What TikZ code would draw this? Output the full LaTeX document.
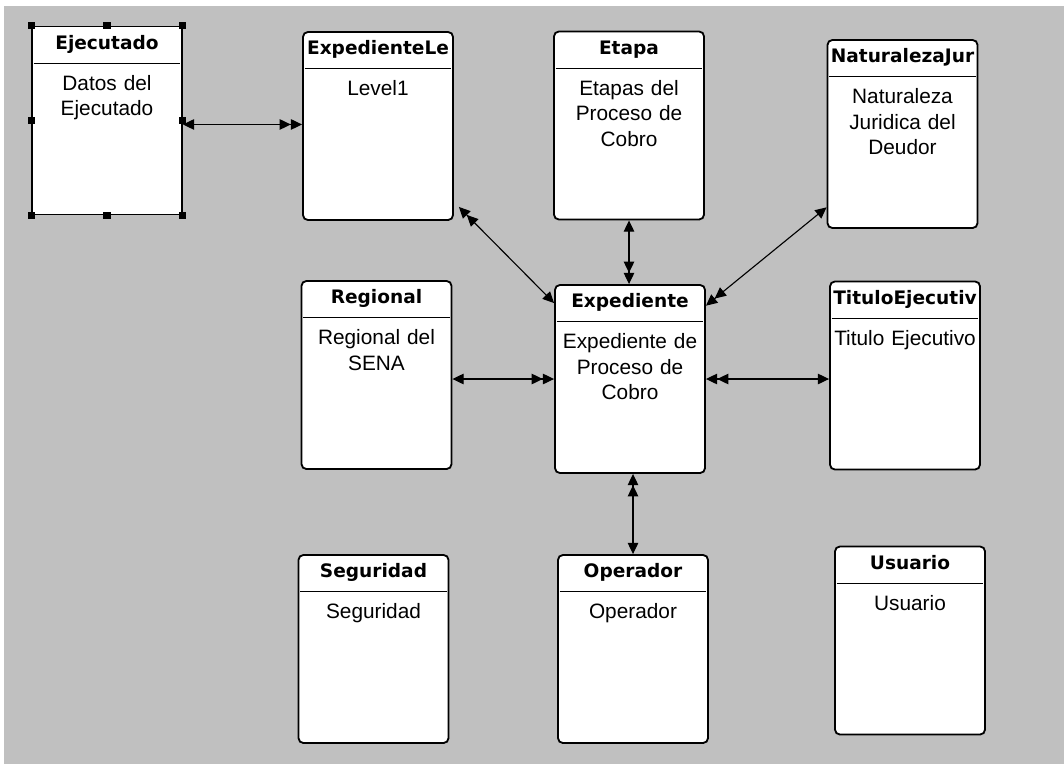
\documentclass[tikz,border=0pt]{standalone}
\usepackage{fontspec}
\setmainfont{Liberation Sans}
\newfontfamily\ttlfont{DejaVu Sans}
\usepackage{tikz}
\usetikzlibrary{arrows.meta,positioning}
\definecolor{canvas}{RGB}{192,192,192}
\tikzset{ertip/.tip={Triangle[length=8pt,width=7.5pt]}}

\begin{document}
\begin{tikzpicture}[x=0.025cm,y=-0.025cm,
  ent/.style={
    draw,
    fill=white,
    line width=1.3pt,
    rounded corners=3.5pt,
    minimum width=3.75cm,
    minimum height=4.7cm,
    inner sep=0pt
  },
  ttl/.style={
    font=\ttlfont\bfseries\fontsize{13.2}{15}\selectfont,
    minimum width=3.65cm,
    minimum height=0.925cm,
    text height=9.5pt,
    text depth=2.5pt,
    inner sep=0pt,
    anchor=north
  },
  body/.style={
    font=\fontsize{14.8}{18.1}\selectfont,
    text width=3.6cm,
    align=center,
    inner sep=0pt,
    anchor=base
  },
  hdr/.style={line width=0.9pt},
  hnd/.style={fill=black,inner sep=0pt,minimum size=5pt},
  rel/.style={{ertip[]}-{ertip[]ertip[]},line width=0.8pt}]

  \useasboundingbox (0,0) rectangle (1064,764);
  \fill[white] (0,0) rectangle (1064,764);
  \fill[canvas] (4,6) rectangle (1064,764);

  % top row
  \node[ent,sharp corners] (ejec) at (107,120.5) {};
  \node[ttl] (ejec-t) at (ejec.north) {Ejecutado};
  \node[body] (ejec-b) at ([yshift=-19.2pt]ejec-t.south) {Datos del\\Ejecutado};

  \node[ent] (level) at (378,126) {};
  \node[ttl] (level-t) at (level.north) {ExpedienteLe};
  \node[body] (level-b) at ([yshift=-19.2pt]level-t.south) {Level1};

  \node[ent] (etapa) at (629,125.5) {};
  \node[ttl] (etapa-t) at (etapa.north) {Etapa};
  \node[body] (etapa-b) at ([yshift=-19.2pt]etapa-t.south) {Etapas del\\Proceso de\\Cobro};

  \node[ent] (natur) at (902.5,134) {};
  \node[ttl] (natur-t) at (natur.north) {NaturalezaJur};
  \node[body] (natur-b) at ([yshift=-19.2pt]natur-t.south) {Naturaleza\\Juridica del\\Deudor};

  % middle row
  \node[ent] (regional) at (376.5,375) {};
  \node[ttl] (regional-t) at (regional.north) {Regional};
  \node[body] (regional-b) at ([yshift=-19.2pt]regional-t.south) {Regional del\\SENA};

  \node[ent] (expd) at (630,379) {};
  \node[ttl] (expd-t) at (expd.north) {Expediente};
  \node[body] (expd-b) at ([yshift=-19.2pt]expd-t.south) {Expediente de\\Proceso de\\Cobro};

  \node[ent] (titulo) at (905,375.5) {};
  \node[ttl] (titulo-t) at (titulo.north) {TituloEjecutiv};
  \node[body] (titulo-b) at ([yshift=-19.2pt]titulo-t.south) {Titulo Ejecutivo};

  % bottom row
  \node[ent] (segur) at (373.5,649) {};
  \node[ttl] (segur-t) at (segur.north) {Seguridad};
  \node[body] (segur-b) at ([yshift=-19.2pt]segur-t.south) {Seguridad};

  \node[ent] (oper) at (633,649) {};
  \node[ttl] (oper-t) at (oper.north) {Operador};
  \node[body] (oper-b) at ([yshift=-19.2pt]oper-t.south) {Operador};

  \node[ent] (usuario) at (910,640.5) {};
  \node[ttl] (usuario-t) at (usuario.north) {Usuario};
  \node[body] (usuario-b) at ([yshift=-19.2pt]usuario-t.south) {Usuario};

  \foreach \n in {ejec,level,etapa,natur,regional,expd,titulo,segur,oper,usuario}
    \draw[hdr] (\n-t.south west) -- (\n-t.south east);

  % selection handles
  \foreach \a in {north west,north,north east,east,south east,south,south west,west}
    \node[hnd] (ejec-h-\a) at (ejec.\a) {};

  \draw[rel] (ejec.-3) -- (ejec.-3 -| level.west);
  \draw[rel,shorten >=5pt] (expd.135) -- (level.-45);
  \draw[rel] (etapa.south) -- (etapa.south |- expd.north);
  \draw[rel] (natur.-136) -- (expd.44);
  \draw[rel] (expd.west -| regional.east) -- (expd.west);
  \draw[rel] (expd.east -| titulo.west) -- (expd.east);
  \draw[rel] (oper.north) -- (oper.north |- expd.south);
\end{tikzpicture}
\end{document}
